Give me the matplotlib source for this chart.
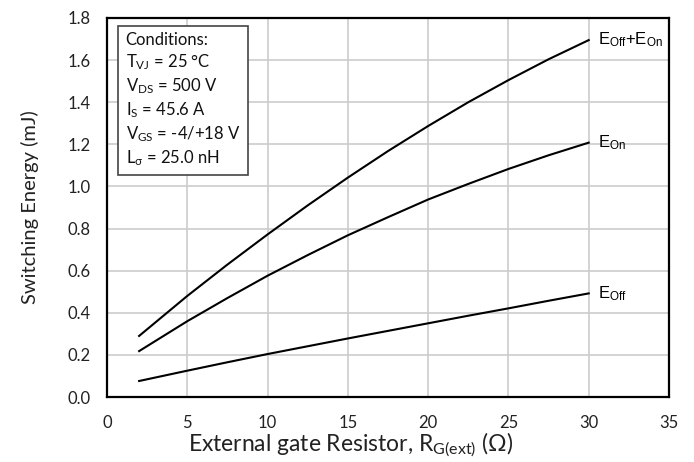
import matplotlib
matplotlib.use("Agg")
import matplotlib.pyplot as plt

rg = [2, 5, 7.5, 10, 12.5, 15, 17.5, 20, 22.5, 25, 27.5, 30]
e_tot = [0.29, 0.48, 0.629, 0.772, 0.910, 1.042, 1.168, 1.287, 1.400, 1.505, 1.604, 1.695]
e_on = [0.218, 0.360, 0.470, 0.576, 0.674, 0.768, 0.854, 0.938, 1.012, 1.083, 1.148, 1.208]
e_off = [0.076, 0.125, 0.165, 0.204, 0.241, 0.278, 0.314, 0.350, 0.386, 0.421, 0.457, 0.492]

x_ticks = [0, 5, 10, 15, 20, 25, 30, 35]
y_ticks = [0.0, 0.2, 0.4, 0.6, 0.8, 1.0, 1.2, 1.4, 1.6, 1.8]

plt.rcParams['font.family'] = ['Lato', 'DejaVu Sans']
plt.rcParams['mathtext.fontset'] = 'custom'
plt.rcParams['mathtext.rm'] = 'Lato'
plt.rcParams['mathtext.it'] = 'Lato:italic'

fig = plt.figure(figsize=(6.94, 4.62), dpi=100)
ax = fig.add_axes([107/694, 1-397/462, 562/694, 379/462])

for y in (e_tot, e_on, e_off):
    ax.plot(rg, y, color='black', lw=1.5, zorder=3, solid_joinstyle='round')

ax.set_xlim(0, 35)
ax.set_ylim(0, 1.8)
ax.set_xticks(x_ticks)
ax.set_yticks(y_ticks)
ax.set_yticklabels([f"{v:.1f}" for v in y_ticks])
ax.grid(True, color='#cccccc', lw=1.2)
ax.set_axisbelow(True)
ax.tick_params(length=0, labelsize=12, colors='#222222')
ax.tick_params(axis='y', pad=12)
ax.tick_params(axis='x', pad=13)
for s in ax.spines.values():
    s.set_linewidth(1.6)

ax.set_xlabel(r'External gate Resistor, R$_\mathregular{G(ext)}$ ($\mathregular{\Omega}$)', fontsize=16.5, color='#222222')
ax.set_ylabel('Switching Energy (mJ)', fontsize=14.5, color='#222222')
ax.xaxis.set_label_coords(0.434, -0.088)
ax.yaxis.set_label_coords(-0.121, 0.5)

lab_font = ['Liberation Sans']
lx = 30.6
ax.text(lx, e_tot[-1], r'E$_\mathregular{Off}$+E$_\mathregular{On}$', fontsize=12, va='center', family=lab_font)
ax.text(lx, e_on[-1], r'E$_\mathregular{On}$', fontsize=12, va='center', family=lab_font)
ax.text(lx, e_off[-1], r'E$_\mathregular{Off}$', fontsize=12, va='center', family=lab_font)

cond = ('Conditions:\n'
        r'T$_\mathregular{VJ}$ = 25 °C' '\n'
        r'V$_\mathregular{DS}$ = 500 V' '\n'
        r'I$_\mathregular{S}$ = 45.6 A' '\n'
        r'V$_\mathregular{GS}$ = -4/+18 V' '\n'
        r'L$_\mathregular{\sigma}$ = 25.0 nH')
ax.text(0.033, 0.963, cond, transform=ax.transAxes, fontsize=12, va='top', ha='left',
        linespacing=1.28, zorder=5, color='#111111',
        bbox=dict(boxstyle='square,pad=0.45', fc='white', ec='#444444', lw=1.2))

fig.savefig('out.png', dpi=100)
